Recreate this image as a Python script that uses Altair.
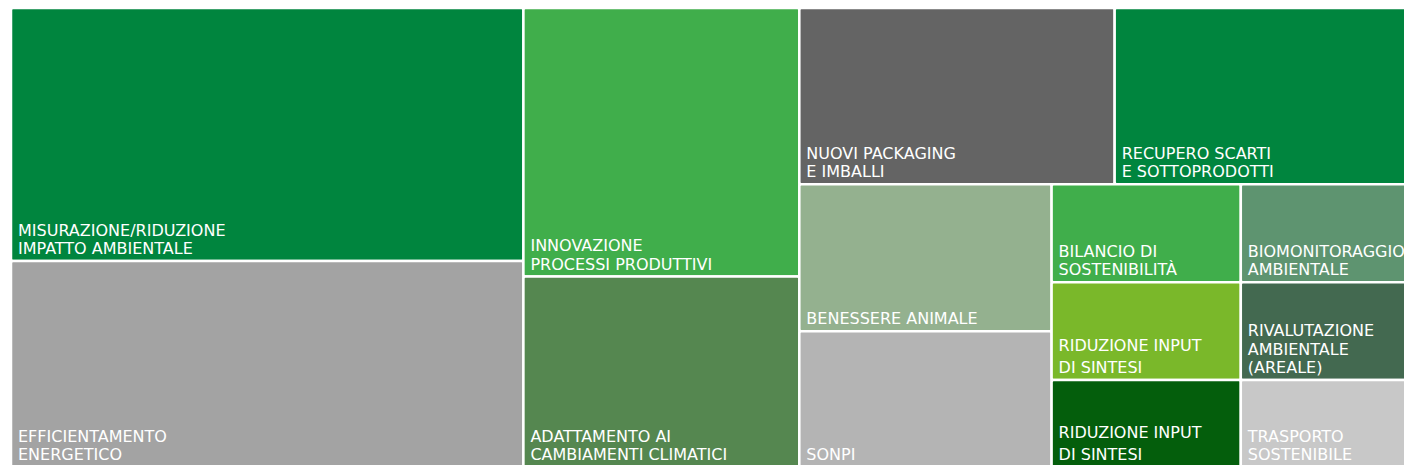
import altair as alt
import pandas as pd

# ---- data (counts per theme) ----
ids = ["MIS", "EFF", "INN", "ADA", "NUO", "REC", "BEN", "SON",
       "BIL", "BIO", "RID1", "RIV", "RID2", "TRA"]
labels = [
    "MISURAZIONE/RIDUZIONE\nIMPATTO AMBIENTALE",
    "EFFICIENTAMENTO\nENERGETICO",
    "INNOVAZIONE\nPROCESSI PRODUTTIVI",
    "ADATTAMENTO AI\nCAMBIAMENTI CLIMATICI",
    "NUOVI PACKAGING\nE IMBALLI",
    "RECUPERO SCARTI\nE SOTTOPRODOTTI",
    "BENESSERE ANIMALE",
    "SONPI",
    "BILANCIO DI\nSOSTENIBILITÀ",
    "BIOMONITORAGGIO\nAMBIENTALE",
    "RIDUZIONE INPUT\nDI SINTESI",
    "RIVALUTAZIONE\nAMBIENTALE\n(AREALE)",
    "RIDUZIONE INPUT\nDI SINTESI",
    "TRASPORTO\nSOSTENIBILE",
]
values = [7, 6, 4, 3, 3, 3, 2, 2, 1, 1, 1, 1, 1, 1]
colors = ["#00853E", "#A3A3A3", "#40AE4B", "#558750", "#646464", "#00853E",
          "#94B18F", "#B4B4B4", "#40AE4B", "#5E9470", "#7AB82A", "#436950",
          "#045E0C", "#C8C8C8"]

# treemap hierarchy: (direction, children); "h" = side by side, "v" = stacked
tree = ("h", [
    ("v", ["MIS", "EFF"]),
    ("v", ["INN", "ADA"]),
    ("v", [
        ("h", ["NUO", "REC"]),
        ("h", [
            ("v", ["BEN", "SON"]),
            ("h", [("v", ["BIL", "RID1", "RID2"]), ("v", ["BIO", "RIV", "TRA"])]),
        ]),
    ]),
])

val = dict(zip(ids, values))


def total(node):
    if isinstance(node, str):
        return val[node]
    return sum(total(c) for c in node[1])


rects = {}


def layout(node, x0, y0, x1, y1):
    if isinstance(node, str):
        rects[node] = (x0, y0, x1, y1)
        return
    d, children = node
    t = total(node)
    pos = x0 if d == "h" else y0
    for c in children:
        frac = total(c) / t
        if d == "h":
            w = (x1 - x0) * frac
            layout(c, pos, y0, pos + w, y1)
            pos += w
        else:
            h = (y1 - y0) * frac
            layout(c, x0, pos, x1, pos + h)
            pos += h


layout(tree, 0.0, 0.0, 1.0, 1.0)

# view geometry: the treemap is larger than the visible window and is clipped
VIEW_W, VIEW_H = 1396, 457
TREE_W, TREE_H = 1419, 470
TREE_X0 = 3

LH = 18.5       # line spacing (px)
LH_WIDE = 22
BOTTOM_LIFT = 11  # keep labels of clipped bottom cells readable

rect_rows = []
text_rows = []
for i, k in enumerate(ids):
    x0, y0, x1, y1 = rects[k]
    rect_rows.append({"id": k, "value": values[i], "x0": x0, "x1": x1, "y0": y0, "y1": y1})
    lines = labels[i].split("\n")
    lh = LH_WIDE if labels[i].startswith("RIDUZIONE") else LH
    n = len(lines)
    anchor = y1 - (BOTTOM_LIFT / TREE_H if y1 > VIEW_H / TREE_H else 0)
    for j, ln in enumerate(lines):
        # lines stacked upward from the cell's bottom edge
        text_rows.append({"id": k, "line": ln, "x0": x0,
                          "ty": anchor - (n - 1 - j) * lh / TREE_H})

rdf = pd.DataFrame(rect_rows)
tdf = pd.DataFrame(text_rows)

xs = alt.Scale(domain=[-TREE_X0 / TREE_W, (VIEW_W - TREE_X0) / TREE_W], nice=False, zero=False)
ys = alt.Scale(domain=[0, VIEW_H / TREE_H], nice=False, zero=False, reverse=True)

rect = alt.Chart(rdf).mark_rect(stroke="white", strokeWidth=2.5, cornerRadius=2, clip=True).encode(
    x=alt.X("x0:Q", scale=xs, axis=None),
    x2="x1:Q",
    y=alt.Y("y0:Q", scale=ys, axis=None),
    y2="y1:Q",
    color=alt.Color("id:N", scale=alt.Scale(domain=ids, range=colors), legend=None),
)

text = alt.Chart(tdf).mark_text(
    align="left", baseline="alphabetic", dx=7, dy=-7, font="DejaVu Sans",
    fontSize=16, color="white", clip=True
).encode(
    x=alt.X("x0:Q", scale=xs, axis=None),
    y=alt.Y("ty:Q", scale=ys, axis=None),
    text="line:N",
)

chart = alt.layer(rect, text).properties(
    width=VIEW_W, height=VIEW_H, padding=0, background="white"
).configure_view(stroke=None)

chart.save("out.html", embed_options={"renderer": "svg", "actions": False})
